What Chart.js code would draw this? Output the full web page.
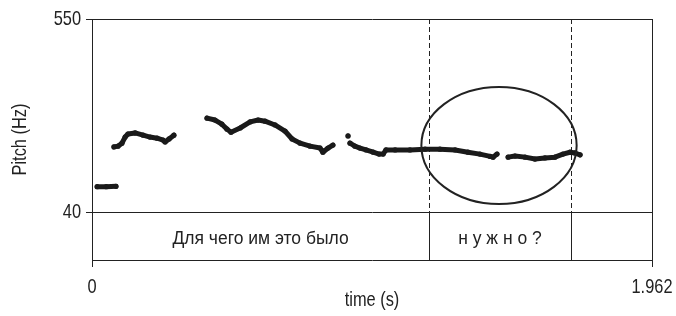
<!DOCTYPE html>
<html>
<head>
<meta charset="utf-8">
<script src="https://cdn.jsdelivr.net/npm/chart.js@4"></script>
<style>
html,body{margin:0;padding:0;background:#fff;}
canvas{display:block;}
</style>
</head>
<body>
<canvas id="c" width="676" height="316"></canvas>
<script>
// ---- data ----
const pitchTime = [
  0.018, 0.050, 0.084, null,
  0.077, 0.091, 0.105, 0.116, 0.126, 0.151, 0.179, 0.203, 0.228, 0.249, 0.256, 0.270, 0.287, null,
  0.403, 0.431, 0.455, 0.473, 0.487, 0.519, 0.554, 0.582, 0.606, 0.641, 0.676, 0.701, 0.729, 0.764, 0.799, 0.809, 0.827, 0.844, null,
  0.897, null,
  0.904, 0.921, 0.939, 0.960, 0.985, 1.006, 1.020, 1.030, 1.062, 1.114, 1.167, 1.219, 1.272, 1.317, 1.359, 1.395, 1.405, 1.419, null,
  1.458, 1.482, 1.517, 1.552, 1.587, 1.622, 1.650, 1.675, 1.692, 1.710
];
const pitchHz = [
  107, 107, 108, null,
  212, 214, 222, 238, 246, 249, 243, 238, 235, 230, 225, 233, 243, null,
  288, 283, 272, 259, 251, 262, 278, 283, 280, 270, 254, 233, 222, 214, 209, 198, 209, 217, null,
  241, null,
  222, 214, 209, 204, 198, 193, 193, 204, 204, 204, 206, 206, 204, 198, 193, 187, 185, 193, null,
  185, 188, 185, 180, 183, 185, 193, 198, 196, 191
];
const xTickValues = [0, 1.962];
const yTickValues = [40, 550];
const tierBounds = [0, 1.181, 1.678, 1.962];
const tierLabels = ["Для чего им это было", "н у ж н о ?", ""];
const circledRegion = { t: 1.426, hz: 215.7, halfT: 0.272, halfHz: 154.6 };

// ---- chart ----
const NARROW = "xnarrow,'Liberation Sans',Arial,sans-serif";
const NARROW_SCALE = 0.78;
const INK = '#222';

const points = pitchTime.map((t, i) => ({ x: t, y: pitchHz[i] }));

const canvas = document.getElementById('c');
const ctx2d = canvas.getContext('2d');
// condensed rendering for the Helvetica-Narrow-like axis text
const origFill = ctx2d.fillText.bind(ctx2d);
ctx2d.fillText = function (text, x, y, maxWidth) {
  if (String(this.font).indexOf('xnarrow') >= 0) {
    this.save();
    this.translate(x, y);
    this.scale(NARROW_SCALE, 1);
    origFill(text, 0, 0);
    this.restore();
  } else {
    origFill(text, x, y, maxWidth);
  }
};

const tierPlugin = {
  id: 'tier',
  beforeDatasetsDraw(chart) {
    const { ctx, chartArea, scales: { x, y } } = chart;
    const y40 = y.getPixelForValue(yTickValues[0]);
    ctx.save();
    ctx.strokeStyle = INK;
    ctx.lineWidth = 1;
    for (let i = 1; i < tierBounds.length - 1; i++) {
      const px = Math.round(x.getPixelForValue(tierBounds[i])) + 0.5;
      ctx.setLineDash([]);
      ctx.beginPath();
      ctx.moveTo(px, y40);
      ctx.lineTo(px, chartArea.bottom);
      ctx.stroke();
      ctx.setLineDash([5, 3]);
      ctx.beginPath();
      ctx.moveTo(px, chartArea.top);
      ctx.lineTo(px, y40);
      ctx.stroke();
    }
    ctx.setLineDash([]);
    ctx.fillStyle = INK;
    ctx.font = "17.5px 'Liberation Sans',Arial,sans-serif";
    ctx.textAlign = 'center';
    ctx.textBaseline = 'middle';
    const ty = (y40 + chartArea.bottom) / 2 + 3;
    for (let i = 0; i < tierLabels.length; i++) {
      if (!tierLabels[i]) continue;
      const cx = x.getPixelForValue((tierBounds[i] + tierBounds[i + 1]) / 2);
      ctx.fillText(tierLabels[i], cx, ty);
    }
    ctx.restore();
  },
  afterDatasetsDraw(chart) {
    const { ctx, scales: { x, y } } = chart;
    const cx = x.getPixelForValue(circledRegion.t);
    const cy = y.getPixelForValue(circledRegion.hz);
    const rx = Math.abs(x.getPixelForValue(circledRegion.t + circledRegion.halfT) - cx);
    const ry = Math.abs(y.getPixelForValue(circledRegion.hz + circledRegion.halfHz) - cy);
    ctx.save();
    ctx.strokeStyle = INK;
    ctx.lineWidth = 2;
    ctx.beginPath();
    ctx.ellipse(cx, cy, rx, ry, 0, 0, Math.PI * 2);
    ctx.stroke();
    ctx.restore();
  }
};

new Chart(canvas, {
  type: 'line',
  data: {
    datasets: [{
      data: points,
      spanGaps: false,
      borderColor: '#1a1a1a',
      backgroundColor: '#1a1a1a',
      borderWidth: 5,
      borderCapStyle: 'round',
      borderJoinStyle: 'round',
      pointRadius: 2.6,
      pointBorderWidth: 0,
      pointBackgroundColor: '#1a1a1a',
      tension: 0
    }]
  },
  options: {
    responsive: false,
    animation: false,
    devicePixelRatio: 1,
    layout: { padding: { left: 0, top: 19, right: 24, bottom: 0 } },
    plugins: { legend: { display: false }, tooltip: { enabled: false } },
    scales: {
      x: {
        type: 'linear',
        min: 0,
        max: 1.962,
        afterBuildTicks: s => { s.ticks = xTickValues.map(v => ({ value: v })); },
        afterFit: s => { s.height = 56; s.paddingLeft = 0; s.paddingRight = 0; },
        ticks: {
          callback: v => String(v),
          color: INK,
          font: { family: NARROW, size: 21 },
          padding: 8,
          maxRotation: 0,
          autoSkip: false
        },
        grid: { color: INK, lineWidth: 1, drawOnChartArea: true, drawTicks: true, tickLength: 7, tickColor: INK },
        border: { display: true, color: INK, width: 1 },
        title: { display: true, text: 'time (s)', color: INK, font: { family: NARROW, size: 21 }, padding: { top: 0, bottom: 3 } }
      },
      y: {
        type: 'linear',
        min: -86.8,
        max: 550,
        afterBuildTicks: s => { s.ticks = yTickValues.map(v => ({ value: v })); },
        afterFit: s => { s.width = 92; s.paddingTop = 0; s.paddingBottom = 0; },
        ticks: {
          callback: v => String(v),
          color: INK,
          font: { family: NARROW, size: 21 },
          padding: 5,
          autoSkip: false
        },
        grid: { color: INK, lineWidth: 1, drawOnChartArea: true, drawTicks: true, tickLength: 6, tickColor: INK },
        border: { display: true, color: INK, width: 1 },
        title: { display: true, text: 'Pitch (Hz)', color: INK, font: { family: NARROW, size: 21 }, padding: { top: 8, bottom: 0 } }
      }
    }
  },
  plugins: [tierPlugin]
});
</script>
</body>
</html>
